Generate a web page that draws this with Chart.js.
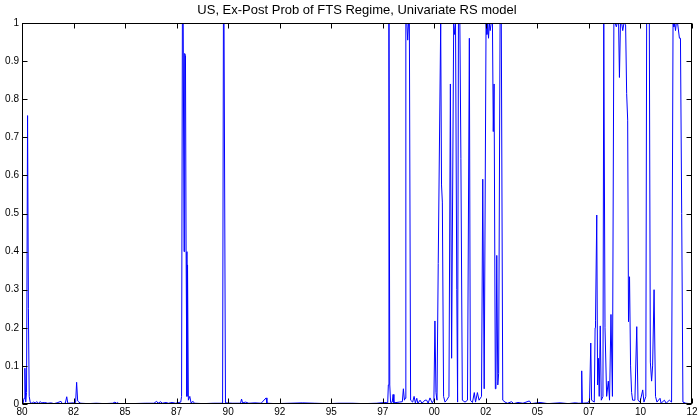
<!DOCTYPE html>
<html>
<head>
<meta charset="utf-8">
<script src="https://cdn.jsdelivr.net/npm/chart.js@4"></script>
<style>
  html, body { margin: 0; padding: 0; background: #fff; }
  #wrap { width: 700px; height: 417px; }
</style>
</head>
<body>
<div id="wrap"><canvas id="c" width="700" height="417"></canvas></div>
<script>
// Decimal-year dates of the points
const dates = [
  1980.00,1980.05,1980.10,1980.14,1980.18,1980.22,1980.27,1980.31,1980.35,1980.40,
  1980.48,1980.56,1980.64,1980.72,1980.80,1980.88,1980.96,1981.10,1981.25,1981.40,
  1981.55,1981.70,1981.89,1981.95,1982.10,1982.17,1982.22,1982.50,1982.60,1982.65,
  1982.70,1982.76,1982.85,1983.20,1983.60,1984.00,1984.40,1984.51,1984.58,1984.62,
  1984.70,1985.30,1986.00,1986.40,1986.53,1986.60,1986.73,1986.80,1986.99,1987.10,
  1987.28,1987.45,1987.70,1987.74,1987.78,1987.82,1987.86,1987.89,1987.93,1987.96,
  1988.00,1988.03,1988.07,1988.14,1988.20,1988.30,1988.36,1988.80,1989.30,1989.73,
  1989.77,1989.80,1989.84,1989.87,1990.20,1990.60,1990.65,1990.70,1990.85,1991.00,
  1991.30,1991.60,1991.84,1991.88,1992.30,1993.00,1993.60,1994.20,1994.80,1995.40,
  1996.00,1996.60,1997.20,1997.60,1997.74,1997.77,1997.80,1997.84,1997.88,1997.96,
  1998.00,1998.04,1998.30,1998.45,1998.50,1998.55,1998.58,1998.62,1998.67,1998.71,
  1998.75,1998.79,1998.85,1998.95,1999.02,1999.08,1999.15,1999.20,1999.31,1999.40,
  1999.55,1999.63,1999.70,1999.79,1999.90,1999.98,2000.03,2000.08,2000.13,2000.19,
  2000.31,2000.35,2000.39,2000.45,2000.52,2000.60,2000.71,2000.78,2000.84,2000.94,
  2000.98,2001.03,2001.09,2001.13,2001.17,2001.24,2001.29,2001.36,2001.49,2001.61,
  2001.70,2001.75,2001.85,2001.94,2002.00,2002.09,2002.17,2002.29,2002.35,2002.42,
  2002.51,2002.55,2002.59,2002.63,2002.67,2002.71,2002.76,2002.82,2002.86,2002.90,
  2002.96,2002.99,2003.03,2003.08,2003.12,2003.19,2003.25,2003.32,2003.43,2003.55,
  2003.75,2003.85,2004.06,2004.30,2004.61,2004.70,2005.13,2005.50,2006.10,2006.50,
  2006.83,2007.00,2007.12,2007.15,2007.18,2007.45,2007.53,2007.59,2007.63,2007.76,
  2007.80,2007.82,2007.88,2007.92,2007.96,2008.00,2008.05,2008.10,2008.18,2008.22,
  2008.28,2008.36,2008.44,2008.50,2008.57,2008.64,2008.71,2008.77,2008.83,2008.87,
  2008.94,2008.98,2009.03,2009.09,2009.14,2009.20,2009.28,2009.33,2009.38,2009.42,
  2009.47,2009.52,2009.57,2009.62,2009.73,2009.82,2009.88,2009.98,2010.11,2010.17,
  2010.26,2010.30,2010.37,2010.43,2010.48,2010.54,2010.59,2010.66,2010.73,2010.80,
  2010.95,2011.00,2011.16,2011.25,2011.40,2011.51,2011.58,2011.62,2011.66,2011.70,
  2011.74,2011.80,2011.89,2011.94,2012.00,2012.06,2012.20,2012.40,2012.47
];
// Ex-post probability of the FTS regime at each date
const probFTS = [
  0.012,0.002,0.015,0.094,0.005,0.030,0.757,0.250,0.020,0.004,
  0.002,0.005,0.003,0.006,0.002,0.006,0.003,0.004,0.002,0.003,
  0.001,0.003,0.007,0.001,0.002,0.019,0.002,0.003,0.004,0.057,
  0.008,0.005,0.002,0.001,0.002,0.001,0.002,0.005,0.002,0.004,
  0.001,0.001,0.002,0.002,0.007,0.002,0.006,0.002,0.004,0.002,
  0.004,0.002,0.005,0.020,1.000,1.000,0.400,0.920,0.915,0.400,
  0.020,0.365,0.010,0.020,0.003,0.007,0.002,0.001,0.002,0.002,
  1.000,1.000,1.000,0.003,0.002,0.002,0.013,0.003,0.005,0.002,
  0.003,0.002,0.016,0.002,0.001,0.002,0.003,0.002,0.001,0.002,
  0.002,0.001,0.002,0.004,0.003,0.050,1.000,0.050,0.004,0.005,
  0.025,0.003,0.005,0.006,0.040,0.010,0.015,1.000,1.000,0.955,
  1.000,1.000,0.010,0.005,0.020,0.003,0.015,0.002,0.010,0.002,
  0.010,0.010,0.002,0.016,0.003,0.010,0.218,0.030,0.010,0.369,
  1.000,0.575,0.530,0.020,0.005,0.010,0.020,0.840,0.120,1.000,
  0.970,1.000,0.300,0.005,1.000,1.000,0.645,0.010,0.005,0.010,
  0.960,0.010,0.004,0.030,0.005,0.030,0.010,0.020,0.590,0.040,
  1.000,0.970,1.000,0.960,1.000,0.980,1.000,1.000,0.715,0.840,
  0.040,0.060,0.390,0.050,0.080,1.000,1.000,0.010,0.005,0.002,
  0.006,0.001,0.004,0.002,0.008,0.001,0.004,0.001,0.003,0.001,
  0.003,0.002,0.002,0.087,0.002,0.003,0.010,0.160,0.010,0.005,
  0.200,0.220,0.496,0.050,0.120,0.020,0.205,0.010,0.020,1.000,
  0.200,0.020,0.060,0.010,0.235,0.020,1.000,1.000,0.990,1.000,
  1.000,0.857,1.000,1.000,0.980,1.000,0.995,0.815,0.745,0.216,
  0.334,0.100,0.030,0.010,0.010,0.203,0.010,0.005,0.037,0.005,
  0.020,1.000,1.000,1.000,0.110,0.060,0.100,0.300,0.020,0.005,
  0.015,0.002,0.010,0.002,0.010,0.005,1.000,0.990,1.000,0.980,
  1.000,1.000,0.960,0.960,0.500,0.005,0.002,0.001,0.002
];
const xTickLabels = ['80','82','85','87','90','92','95','97','00','02','05','07','10','12'];
const yTickLabels = ['0','0.1','0.2','0.3','0.4','0.5','0.6','0.7','0.8','0.9','1'];
const chartTitle = 'US, Ex-Post Prob of FTS Regime, Univariate RS model';

const points = dates.map((d, i) => ({ x: d, y: probFTS[i] }));

const framePlugin = {
  id: 'frame',
  afterDraw(chart) {
    const { ctx, chartArea: { left, right, top, bottom }, scales: { x, y } } = chart;
    const L = Math.round(left) + 0.5, R = Math.round(right) - 0.5;
    const T = Math.round(top) + 0.5, B = Math.round(bottom) - 0.5;
    ctx.save();
    ctx.strokeStyle = '#000';
    ctx.lineWidth = 1;
    ctx.strokeRect(L, T, R - L, B - T);
    const tl = 5;
    ctx.beginPath();
    x.ticks.forEach(t => {
      const px = Math.round(x.getPixelForValue(t.value)) + 0.5;
      ctx.moveTo(px, B); ctx.lineTo(px, B - tl);
      ctx.moveTo(px, T); ctx.lineTo(px, T + tl);
    });
    y.ticks.forEach(t => {
      const py = Math.round(y.getPixelForValue(t.value)) + 0.5;
      ctx.moveTo(L, py); ctx.lineTo(L + tl, py);
      ctx.moveTo(R, py); ctx.lineTo(R - tl, py);
    });
    ctx.stroke();
    ctx.restore();
  }
};

Chart.defaults.font.family = '"Liberation Sans", Arial, sans-serif';
Chart.defaults.color = '#000';

new Chart(document.getElementById('c'), {
  type: 'line',
  data: {
    datasets: [{
      data: points,
      borderColor: '#0000ff',
      borderWidth: 1,
      pointRadius: 0,
      fill: false,
      tension: 0
    }]
  },
  options: {
    responsive: false,
    devicePixelRatio: 1,
    animation: false,
    parsing: true,
    layout: { padding: { left: 0, right: 8, top: 0, bottom: 0 } },
    plugins: {
      legend: { display: false },
      tooltip: { enabled: false },
      title: {
        display: true,
        text: chartTitle,
        fullSize: false,
        font: { size: 13, weight: 'normal' },
        color: '#000',
        padding: { top: 3, bottom: 4.4 }
      }
    },
    scales: {
      x: {
        type: 'linear',
        min: 1980,
        max: 2012.5,
        grid: { display: false, drawTicks: false },
        border: { display: false },
        ticks: {
          stepSize: 2.5,
          padding: 2,
          maxRotation: 0,
          autoSkip: false,
          font: { size: 10 },
          callback: (v, i) => xTickLabels[i]
        },
        afterFit(s) { s.height = 13; }
      },
      y: {
        min: 0,
        max: 1,
        grid: { display: false, drawTicks: false },
        border: { display: false },
        ticks: {
          stepSize: 0.1,
          padding: 3,
          autoSkip: false,
          font: { size: 10 },
          callback: (v, i) => yTickLabels[i]
        },
        afterFit(s) { s.width = 22; }
      }
    }
  },
  plugins: [framePlugin]
});
</script>
</body>
</html>
